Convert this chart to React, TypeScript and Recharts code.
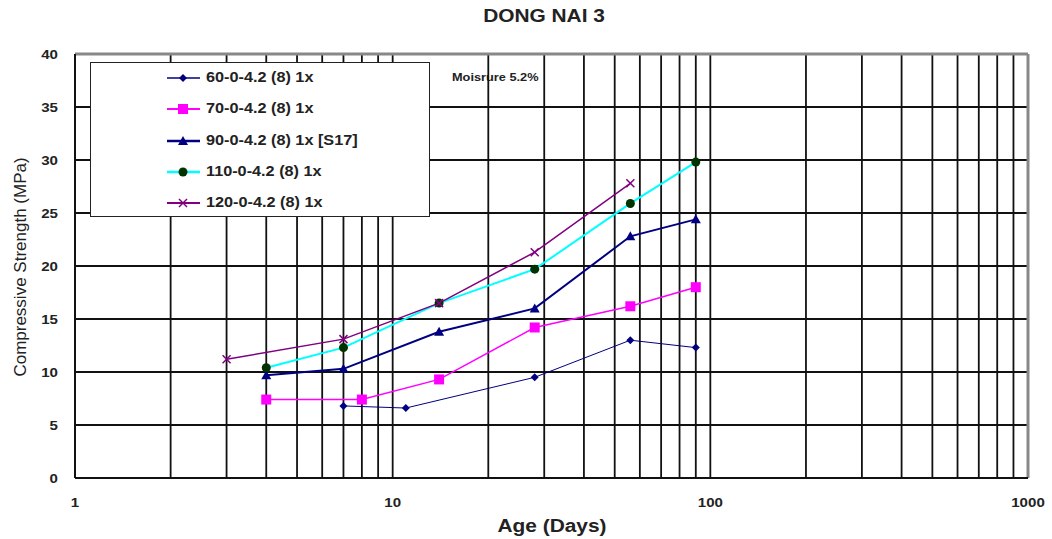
import { LineChart, Line, XAxis, YAxis, CartesianGrid, ReferenceLine, Customized } from 'recharts';

// age in days / compressive strength in MPa, one pair per mix
const days60 = [7, 11, 28, 56, 90];
const mpa60 = [6.8, 6.6, 9.5, 13.0, 12.3];
const days70 = [4, 8, 14, 28, 56, 90];
const mpa70 = [7.4, 7.4, 9.3, 14.2, 16.2, 18.0];
const days90 = [4, 7, 14, 28, 56, 90];
const mpa90 = [9.7, 10.3, 13.8, 16.0, 22.8, 24.4];
const days110 = [4, 7, 14, 28, 56, 90];
const mpa110 = [10.4, 12.3, 16.5, 19.7, 25.9, 29.8];
const days120 = [3, 7, 14, 28, 56];
const mpa120 = [11.2, 13.1, 16.5, 21.3, 27.8];

const xTicks = [1, 10, 100, 1000];
const yTicks = [0, 5, 10, 15, 20, 25, 30, 35, 40];
const logGrid = [2, 3, 4, 5, 6, 7, 8, 9, 10, 20, 30, 40, 50, 60, 70, 80, 90, 100, 200, 300, 400, 500, 600, 700, 800, 900];

const FONT = '"Liberation Sans", Arial, sans-serif';
const STRETCH = 1.16; // the source image is a bit wider than it is tall

const toPoints = (d: number[], v: number[]) => d.map((day, i) => ({ day, mpa: v[i] }));

type Shape = 'diamond' | 'square' | 'triangle' | 'circle' | 'cross';

function Marker({ shape, cx, cy, color }: { shape: Shape; cx: number; cy: number; color: string }) {
  if (shape === 'diamond') {
    return <polygon points={`${cx},${cy - 4} ${cx + 4},${cy} ${cx},${cy + 4} ${cx - 4},${cy}`} fill={color} />;
  }
  if (shape === 'square') {
    return <rect x={cx - 5} y={cy - 5} width={10} height={10} fill={color} />;
  }
  if (shape === 'triangle') {
    return <polygon points={`${cx},${cy - 5} ${cx + 5},${cy + 4} ${cx - 5},${cy + 4}`} fill={color} />;
  }
  if (shape === 'circle') {
    return <circle cx={cx} cy={cy} r={4.5} fill={color} />;
  }
  return (
    <g stroke={color} strokeWidth={1.5}>
      <line x1={cx - 4} y1={cy - 4} x2={cx + 4} y2={cy + 4} />
      <line x1={cx - 4} y1={cy + 4} x2={cx + 4} y2={cy - 4} />
    </g>
  );
}

const series = [
  { name: '60-0-4.2 (8) 1x', data: toPoints(days60, mpa60), line: '#000080', width: 1, shape: 'diamond' as Shape, mark: '#000080' },
  { name: '70-0-4.2 (8) 1x', data: toPoints(days70, mpa70), line: '#ff00ff', width: 1.5, shape: 'square' as Shape, mark: '#ff00ff' },
  { name: '90-0-4.2 (8) 1x [S17]', data: toPoints(days90, mpa90), line: '#000080', width: 2, shape: 'triangle' as Shape, mark: '#000080' },
  { name: '110-0-4.2 (8) 1x', data: toPoints(days110, mpa110), line: '#00ffff', width: 2, shape: 'circle' as Shape, mark: '#003300' },
  { name: '120-0-4.2 (8) 1x', data: toPoints(days120, mpa120), line: '#800080', width: 1.5, shape: 'cross' as Shape, mark: '#800080' }
];

function WideText({ x, y, anchor = 'start', size, bold = true, children }: any) {
  return (
    <text
      transform={`translate(${x} ${y}) scale(${STRETCH} 1)`}
      textAnchor={anchor}
      fontSize={size}
      fontWeight={bold ? 'bold' : 'normal'}
      fontFamily={FONT}
      fill="#222"
    >
      {children}
    </text>
  );
}

const XTick = ({ x, y, payload }: any) => (
  <WideText x={x} y={y + 27} anchor="middle" size={13}>
    {payload.value}
  </WideText>
);

const YTick = ({ x, y, payload }: any) => (
  <WideText x={x - 15} y={y + 5} anchor="end" size={13}>
    {payload.value}
  </WideText>
);

function LegendBox() {
  return (
    <div
      style={{
        position: 'absolute',
        left: 90,
        top: 62,
        width: 338,
        height: 153,
        background: '#fff',
        border: '1px solid #222',
        fontFamily: FONT
      }}
    >
      {series.map((s, i) => (
        <div key={s.name} style={{ position: 'absolute', left: 0, top: 15 + i * 31.3 - 9, height: 18, width: '100%' }}>
          <svg width={40} height={18} style={{ position: 'absolute', left: 74, top: 0 }}>
            <line x1={2} y1={9} x2={35} y2={9} stroke={s.line} strokeWidth={s.width + 0.5} />
            <Marker shape={s.shape} cx={18} cy={9} color={s.mark} />
          </svg>
          <span
            style={{
              position: 'absolute',
              left: 115,
              top: 0,
              fontSize: 14,
              fontWeight: 'bold',
              color: '#222',
              whiteSpace: 'nowrap',
              transform: `scaleX(${STRETCH})`,
              transformOrigin: 'left center'
            }}
          >
            {s.name}
          </span>
        </div>
      ))}
    </div>
  );
}

function Labels() {
  return (
    <g>
      <WideText x={544} y={22} anchor="middle" size={18}>
        DONG NAI 3
      </WideText>
      <WideText x={552} y={532} anchor="middle" size={18}>
        Age (Days)
      </WideText>
      <text
        x={26}
        y={267}
        textAnchor="middle"
        fontSize={17}
        fontFamily={FONT}
        fill="#222"
        transform="rotate(-90 26 267)"
      >
        Compressive Strength (MPa)
      </text>
      <WideText x={452} y={81} size={11}>
        Moisrure 5.2%
      </WideText>
    </g>
  );
}

export default function App() {
  return (
    <div style={{ position: 'absolute', left: 0, top: 0, width: 1052, height: 539, background: '#fff' }}>
      <LineChart width={1052} height={539} margin={{ top: 54, right: 24, left: 0, bottom: 0 }}>
        <CartesianGrid vertical={false} stroke="#111" strokeWidth={1.8} horizontalValues={yTicks} />
        {logGrid.map((d) => (
          <ReferenceLine key={d} x={d} stroke="#111" strokeWidth={1.8} />
        ))}
        <ReferenceLine x={1000} stroke="#888" strokeWidth={3} />
        <ReferenceLine y={40} stroke="#888" strokeWidth={3} />
        <XAxis
          dataKey="day"
          type="number"
          scale="log"
          domain={[1, 1000]}
          ticks={xTicks}
          allowDataOverflow
          height={61}
          tickSize={0}
          axisLine={{ stroke: '#111', strokeWidth: 2 }}
          tick={<XTick />}
        />
        <YAxis
          dataKey="mpa"
          type="number"
          domain={[0, 40]}
          ticks={yTicks}
          width={75}
          tickSize={0}
          axisLine={{ stroke: '#111', strokeWidth: 2 }}
          tick={<YTick />}
        />
        {series.map((s) => (
          <Line
            key={s.name}
            data={s.data}
            dataKey="mpa"
            name={s.name}
            stroke={s.line}
            strokeWidth={s.width}
            isAnimationActive={false}
            dot={(p: any) => <Marker key={`${s.name}-${p.index}`} shape={s.shape} cx={p.cx} cy={p.cy} color={s.mark} />}
            activeDot={false}
          />
        ))}
        <Customized component={Labels} />
      </LineChart>
      <LegendBox />
    </div>
  );
}
